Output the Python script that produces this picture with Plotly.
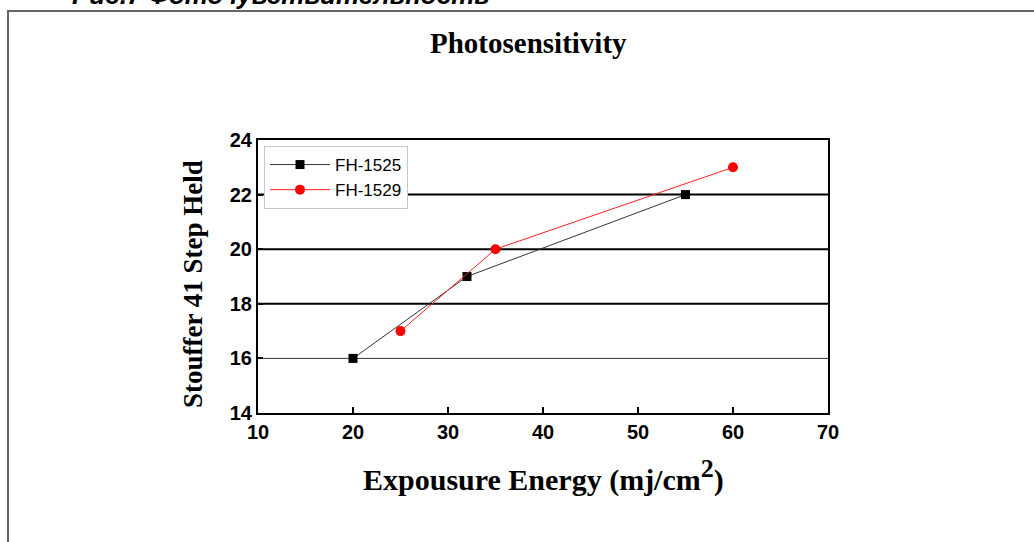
import plotly.graph_objects as go

# Data
fh1525_x = [20, 32, 55]
fh1525_y = [16, 19, 22]
fh1529_x = [25, 35, 60]
fh1529_y = [17, 20, 23]

x_ticks = [10, 20, 30, 40, 50, 60, 70]
y_ticks = [14, 16, 18, 20, 22, 24]
grid_major = [18, 20, 22]
grid_minor = [16]

L, R, T, B = 258, 206, 140, 129
W, H = 1034, 542
PW, PH = W - L - R, H - T - B

def px_x(p):
    return (p - L) / PW

def px_y(p):
    return (H - B - p) / PH

fig = go.Figure()
fig.add_trace(go.Scatter(x=fh1525_x, y=fh1525_y, mode="lines+markers", name="FH-1525",
                         line=dict(color="#333333", width=1),
                         marker=dict(symbol="square", size=9, color="black")))
fig.add_trace(go.Scatter(x=fh1529_x, y=fh1529_y, mode="lines+markers", name="FH-1529",
                         line=dict(color="#ff2020", width=1),
                         marker=dict(symbol="circle", size=10, color="#ff0000")))

shapes = []
for g in grid_major:
    shapes.append(dict(type="line", xref="paper", yref="y", x0=0, x1=1, y0=g, y1=g,
                       line=dict(color="black", width=2), layer="below"))
for g in grid_minor:
    shapes.append(dict(type="line", xref="paper", yref="y", x0=0, x1=1, y0=g, y1=g,
                       line=dict(color="#333333", width=1), layer="below"))
# outer page frame
shapes.append(dict(type="rect", xref="paper", yref="paper",
                   x0=px_x(8), x1=px_x(1045), y0=px_y(560), y1=px_y(11),
                   line=dict(color="#666666", width=2), layer="below"))

tick_font = dict(family="Arial, Liberation Sans", size=20, color="black", weight="bold")
serif = "Liberation Serif, Times New Roman"

annotations = [
    dict(text="<b><i>Рис.7 Фоточувствительность</i></b>", xref="paper", yref="paper",
         x=px_x(70), y=px_y(12), xanchor="left", yanchor="bottom", showarrow=False,
         font=dict(family="Arial, Liberation Sans", size=26, color="black")),
    dict(text="<b>Photosensitivity</b>", xref="paper", yref="paper",
         x=px_x(528), y=px_y(43), xanchor="center", yanchor="middle", showarrow=False,
         font=dict(family=serif, size=29, color="black")),
    dict(text="<b>Expousure Energy (mj/cm<sup><span style='font-size:26px'>2</span></sup>)</b>",
         xref="paper", yref="paper",
         x=px_x(543), y=px_y(475), xanchor="center", yanchor="middle", showarrow=False,
         font=dict(family=serif, size=30, color="black")),
    dict(text="<b>Stouffer 41 Step Held</b>", xref="paper", yref="paper", textangle=-90,
         x=px_x(193), y=px_y(284), xanchor="center", yanchor="middle", showarrow=False,
         font=dict(family=serif, size=27, color="black")),
]

fig.update_layout(
    width=W, height=H,
    margin=dict(l=L, r=R, t=T, b=B),
    paper_bgcolor="white", plot_bgcolor="white",
    showlegend=True,
    legend=dict(x=px_x(264), y=px_y(146), xanchor="left", yanchor="top",
                bordercolor="#c8c8c8", borderwidth=1, bgcolor="white",
                font=dict(family="Arial, Liberation Sans", size=17, color="black"),
                tracegroupgap=0, itemwidth=60),
    shapes=shapes,
    annotations=annotations,
)

fig.update_xaxes(range=[10, 70], tickvals=x_ticks, ticks="inside", ticklen=6, tickwidth=2,
                 tickcolor="black", showline=True, linecolor="black", linewidth=2, mirror=True,
                 showgrid=False, zeroline=False, tickfont=tick_font)
fig.update_yaxes(range=[14, 24], tickvals=y_ticks, ticks="inside", ticklen=5, tickwidth=2,
                 tickcolor="black", showline=True, linecolor="black", linewidth=2, mirror=True,
                 showgrid=False, zeroline=False, tickfont=tick_font)

fig.write_html("out.html")
